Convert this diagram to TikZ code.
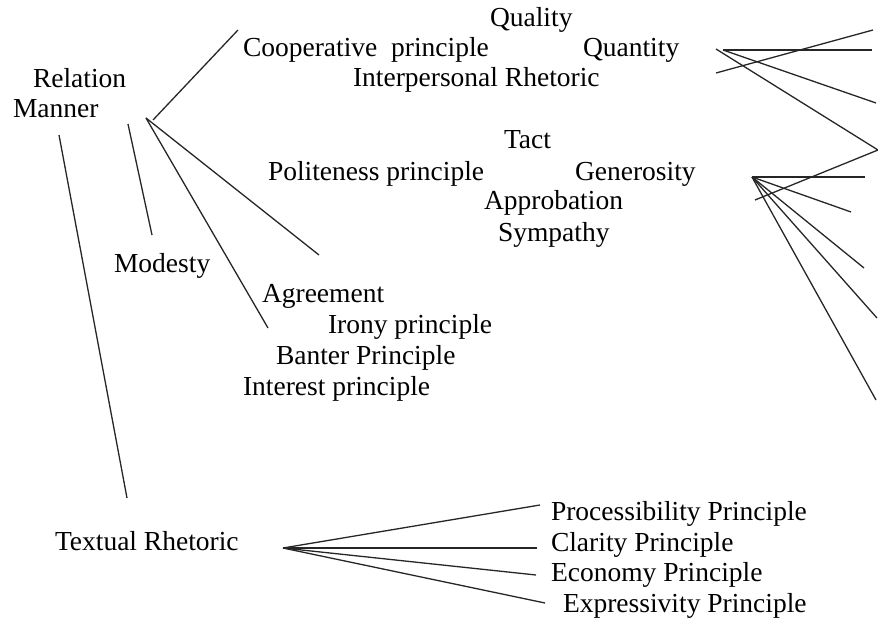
\documentclass[tikz,border=0pt]{standalone}
\usepackage{fontspec}
\setmainfont{Liberation Serif}
\begin{document}
\begin{tikzpicture}[x=1pt,y=-1pt,
  lbl/.style={anchor=base west,inner sep=0pt,outer sep=0pt,font=\fontsize{27.5}{33}\selectfont},
  wire/.style={draw=black!85,line width=1.3pt}]
\useasboundingbox (0,0) rectangle (878,620);

% labels
\node[lbl] (relation) at (33,88) {Relation};
\node[lbl] (manner) at (13,118) {Manner};
\node[lbl] (quality) at (490,27) {Quality};
\node[lbl] (coop) at (243,57) {Cooperative\ \ principle};
\node[lbl] (quantity) at (583,57) {Quantity};
\node[lbl] (interp) at (353,87) {Interpersonal Rhetoric};
\node[lbl] (tact) at (504,149) {Tact};
\node[lbl] (polite) at (268,181) {Politeness principle};
\node[lbl] (generosity) at (575,181) {Generosity};
\node[lbl] (approbation) at (484,210) {Approbation};
\node[lbl] (sympathy) at (498,242) {Sympathy};
\node[lbl] (modesty) at (114,273) {Modesty};
\node[lbl] (agreement) at (262,303) {Agreement};
\node[lbl] (irony) at (328,334) {Irony principle};
\node[lbl] (banter) at (276,364) {Banter Principle};
\node[lbl] (interest) at (243,395) {Interest principle};
\node[lbl] (textual) at (55,550) {Textual Rhetoric};
\node[lbl] (process) at (551,520) {Processibility Principle};
\node[lbl] (clarity) at (551,551) {Clarity Principle};
\node[lbl] (economy) at (551,581) {Economy Principle};
\node[lbl] (express) at (563,612) {Expressivity Principle};

% line ends on the left
\coordinate (fanL) at (146,118);
\coordinate (coopS) at (153,120);
\coordinate (coopE) at (238,30);
\coordinate (modS) at (128,124);
\coordinate (modE) at (152,235);
\coordinate (polE) at (319,255);
\coordinate (banE) at (268,328);
\coordinate (manS) at (59,135);
\coordinate (manE) at (127,498);

% line ends on the right, upper group
\coordinate (qA) at (716,73);
\coordinate (qAe) at (873,30);
\coordinate (qB) at (723,50);
\coordinate (qBe) at (872,50);
\coordinate (qCe) at (876,103);
\coordinate (qD) at (716,49);
\coordinate (qDe) at (878,150);
\coordinate (qEe) at (755,200);

% line ends on the right, lower group
\coordinate (fanG) at (752,177);
\coordinate (g1) at (865,177);
\coordinate (g2) at (851,212);
\coordinate (g3) at (864,268);
\coordinate (g4) at (877,318);
\coordinate (g5) at (876,400);

% textual fan
\coordinate (fanT) at (283,548);
\coordinate (t1) at (540,505);
\coordinate (t2) at (537,548);
\coordinate (t3) at (536,575);
\coordinate (t4) at (545,603);

% connectors
\draw[wire] (coopS) -- (coopE);
\draw[wire] (modS) -- (modE);
\draw[wire] (fanL) -- (polE);
\draw[wire] (fanL) -- (banE);
\draw[wire] (manS) -- (manE);

\draw[wire] (qA) -- (qAe);
\draw[wire] (qB) -- (qBe);
\draw[wire] (qB) -- (qCe);
\draw[wire] (qD) -- (qDe) -- (qEe);

\draw[wire] (fanG) -- (g1);
\draw[wire] (fanG) -- (g2);
\draw[wire] (fanG) -- (g3);
\draw[wire] (fanG) -- (g4);
\draw[wire] (fanG) -- (g5);

\draw[wire] (fanT) -- (t1);
\draw[wire] (fanT) -- (t2);
\draw[wire] (fanT) -- (t3);
\draw[wire] (fanT) -- (t4);
\end{tikzpicture}
\end{document}
